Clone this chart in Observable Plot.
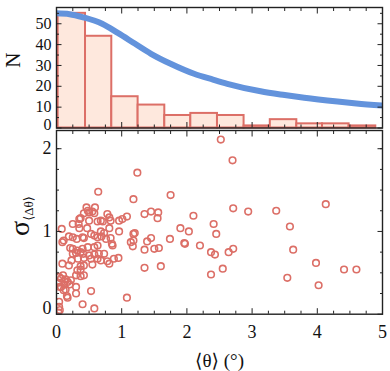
<!DOCTYPE html>
<html><head><meta charset="utf-8">
<script src="https://cdn.jsdelivr.net/npm/d3@7"></script>
<script src="https://cdn.jsdelivr.net/npm/@observablehq/plot@0.6"></script>
<style>
body{margin:0;background:#fff;}
#chart{position:relative;width:390px;height:371px;background:#fff;}
#chart svg{display:block;}
#chart svg.bot{margin-top:-11px;position:relative;}
</style></head><body><div id="chart"></div>
<script>
// Histogram bins (edges in degrees) and counts
const binLo = [0.025,0.445,0.848,1.252,1.661,2.060,2.469,2.877,3.279,3.686,4.080,4.488];
const binHi = [0.445,0.848,1.252,1.661,2.060,2.469,2.877,3.279,3.686,4.080,4.488,4.897];
const binCount = [55,44,15,11,6,7,6,1,4,2,2,1];

// Blue reference curve
const curveX = [0,0.2,0.42,0.7,0.94,1.2,1.45,1.75,2.11,2.4,2.62,3.13,3.5,3.8,4.31,4.6,5.0];
const curveN = [55,54.6,53,50,45.6,40.5,35.6,30.8,26,23.2,21.2,17.6,15.8,14.5,12.7,11.8,10.8];

// Scatter: <theta> vs sigma_<dtheta>
const thetaMean = [1.24,0.64,1.75,1.18,0.46,0.59,0.48,0.55,0.42,0.50,0.58,0.63,0.68,0.71,0.50,0.35,0.37,0.78,0.81,0.83,0.96,1.01,1.08,1.35,1.45,1.56,1.55,2.10,0.25,0.34,0.35,0.08,0.47,0.68,0.73,0.81,0.96,1.18,1.20,1.90,2.03,0.11,0.19,0.25,0.31,0.40,0.42,0.53,0.58,0.63,0.69,0.76,0.83,1.14,1.18,1.39,1.45,1.74,1.96,1.97,2.20,1.17,0.21,0.25,0.32,0.40,0.48,0.58,0.63,0.86,0.85,1.35,1.50,1.57,0.25,0.30,0.37,0.41,0.50,0.58,0.65,0.73,0.33,0.42,0.53,0.63,0.68,0.88,0.95,0.23,0.78,0.81,0.09,0.19,0.37,0.42,0.55,1.35,1.60,0.32,0.37,0.30,0.37,0.42,0.04,0.07,0.14,0.22,0.17,0.12,0.07,0.11,0.30,0.53,0.30,0.17,0.16,1.08,0.40,0.58,0.04,0.04,0.05,0.03,0.05,0.03,0.10,0.14,0.20,0.09,2.52,2.70,2.71,2.94,3.37,4.13,2.41,2.45,3.58,2.37,2.43,2.64,2.71,3.63,3.98,4.41,4.60,2.37,2.55,3.54,4.02];
const sigmaDelta = [1.71,1.48,1.44,1.39,1.29,1.29,1.25,1.24,1.22,1.23,1.22,1.12,1.13,1.12,1.13,1.15,1.16,1.21,1.17,1.13,1.13,1.15,1.18,1.21,1.24,1.23,1.16,1.19,1.09,1.09,1.04,1.03,1.04,1.00,0.98,1.04,1.00,0.97,0.98,1.04,1.00,0.89,0.94,0.93,0.91,0.93,0.92,0.97,0.95,0.93,0.94,0.91,0.92,0.87,0.89,0.88,0.92,0.91,0.86,0.85,0.83,0.82,0.80,0.79,0.77,0.79,0.81,0.81,0.83,0.83,0.85,0.78,0.79,0.80,0.73,0.74,0.75,0.73,0.71,0.72,0.73,0.73,0.67,0.68,0.67,0.67,0.65,0.67,0.68,0.65,0.64,0.61,0.61,0.59,0.58,0.59,0.60,0.56,0.58,0.53,0.54,0.47,0.46,0.47,0.45,0.43,0.42,0.41,0.39,0.36,0.33,0.29,0.33,0.28,0.25,0.20,0.22,0.20,0.12,0.07,0.15,0.09,0.05,0.02,0.33,0.38,0.47,0.30,0.36,0.87,2.11,1.86,1.28,1.24,1.25,1.33,1.09,0.97,1.06,0.75,0.72,0.75,0.79,0.78,0.62,0.54,0.54,0.48,0.55,0.44,0.35];

// Tick values and labels
const xMajor = [0,1,2,3,4,5];
const xMinor = [0.25,0.5,0.75,1.25,1.5,1.75,2.25,2.5,2.75,3.25,3.5,3.75,4.25,4.5,4.75];
const yTopMajor = [0,10,20,30,40,50];
const yTopMinor = [5,15,25,35,45,55];
const yBotMajor = [0,1,2];
const yBotMinor = [0.25,0.5,0.75,1.25,1.5,1.75,2.0,2.25];
const topYLabel = "N";
const xLabel = "⟨θ⟩ (°)";
const sigmaSym = "σ";
const sigmaSub = "⟨Δθ⟩";

const bins = binCount.map((n,i)=>({lo:binLo[i], hi:binHi[i], n}));
const curve = curveX.map((x,i)=>({x, n:curveN[i]}));
const pts = thetaMean.map((x,i)=>({x, y:sigmaDelta[i]}));

const red = "#dc6f67", peach = "#fee8dd", blue = "#6393dc", ink = "#222";
const font = "'Liberation Serif', 'DejaVu Serif', serif";
const fmt = d => String(d);

function tickMarks(xMaj, xMin, yMaj, yMin) {
  const o = {fill:"none", label:null, stroke:ink, strokeWidth:1};
  return [
    Plot.axisX({...o, ticks:xMaj, anchor:"bottom", tickSize:-5.5}),
    Plot.axisX({...o, ticks:xMaj, anchor:"top", tickSize:-5.5}),
    Plot.axisX({...o, ticks:xMin, anchor:"bottom", tickSize:-3}),
    Plot.axisX({...o, ticks:xMin, anchor:"top", tickSize:-3}),
    Plot.axisY({...o, ticks:yMaj, anchor:"left", tickSize:-5.5}),
    Plot.axisY({...o, ticks:yMaj, anchor:"right", tickSize:-5.5}),
    Plot.axisY({...o, ticks:yMin, anchor:"left", tickSize:-3}),
    Plot.axisY({...o, ticks:yMin, anchor:"right", tickSize:-3})
  ];
}

const common = {width:390, marginLeft:56, marginRight:8};

const topPlot = Plot.plot({
  ...common, height:140, marginTop:7, marginBottom:12.5,
  style:{fontFamily:font, fontSize:"16px", background:"transparent", color:"#111"},
  x:{domain:[0,5]}, y:{domain:[0,57.8]},
  marks:[
    Plot.rect(bins, {x1:"lo", x2:"hi", y1:0, y2:"n", fill:peach, stroke:red, strokeWidth:2}),
    Plot.line(curve, {x:"x", y:"n", stroke:blue, strokeWidth:6, curve:"monotone-x", clip:true}),
    Plot.frame({stroke:ink, strokeWidth:1.4}),
    ...tickMarks(xMajor, xMinor, yTopMajor, yTopMinor),
    Plot.axisY({ticks:yTopMajor.slice(1), anchor:"left", tickSize:0, tickPadding:5, fontSize:16, tickFormat:fmt, label:null}),
    Plot.axisY({ticks:[0], anchor:"left", tickSize:0, tickPadding:5, dy:-3.5, fontSize:16, tickFormat:fmt, label:null}),
    Plot.text([topYLabel], {text:d=>d, frameAnchor:"left", dx:-43, rotate:-90, fontSize:21, fill:"#111"})
  ]
});

const botPlot = Plot.plot({
  ...common, height:242, marginTop:1, marginBottom:57.3,
  style:{fontFamily:font, fontSize:"18px", background:"transparent", color:"#111"},
  x:{domain:[0,5]}, y:{domain:[0,2.22]},
  marks:[
    Plot.dot(pts, {x:"x", y:"y", r:3.3, stroke:red, strokeWidth:1.6, fill:"none", clip:true}),
    Plot.frame({stroke:ink, strokeWidth:1.4}),
    ...tickMarks(xMajor, xMinor, yBotMajor, yBotMinor),
    Plot.axisY({ticks:[1,2], anchor:"left", tickSize:0, tickPadding:5, fontSize:18, tickFormat:fmt, label:null}),
    Plot.axisY({ticks:[0], anchor:"left", tickSize:0, tickPadding:5, dy:-5.5, fontSize:18, tickFormat:fmt, label:null}),
    Plot.axisX({ticks:xMajor, anchor:"bottom", tickSize:0, tickPadding:11, fontSize:18, tickFormat:fmt, label:null}),
    Plot.text([xLabel], {text:d=>d, frameAnchor:"bottom", dy:47, lineAnchor:"middle", fontSize:19, fill:"#111"})
  ]
});
botPlot.classList.add("bot");

const lab = d3.select(botPlot).append("text")
  .attr("transform", "translate(29,87) rotate(-90)")
  .attr("text-anchor", "middle")
  .style("font-family", font)
  .attr("fill", "#111");
lab.append("tspan").attr("font-size", 28).text(sigmaSym);
lab.append("tspan").attr("font-size", 13).attr("dy", 4).text(sigmaSub);

document.getElementById("chart").append(topPlot, botPlot);
</script></body></html>
